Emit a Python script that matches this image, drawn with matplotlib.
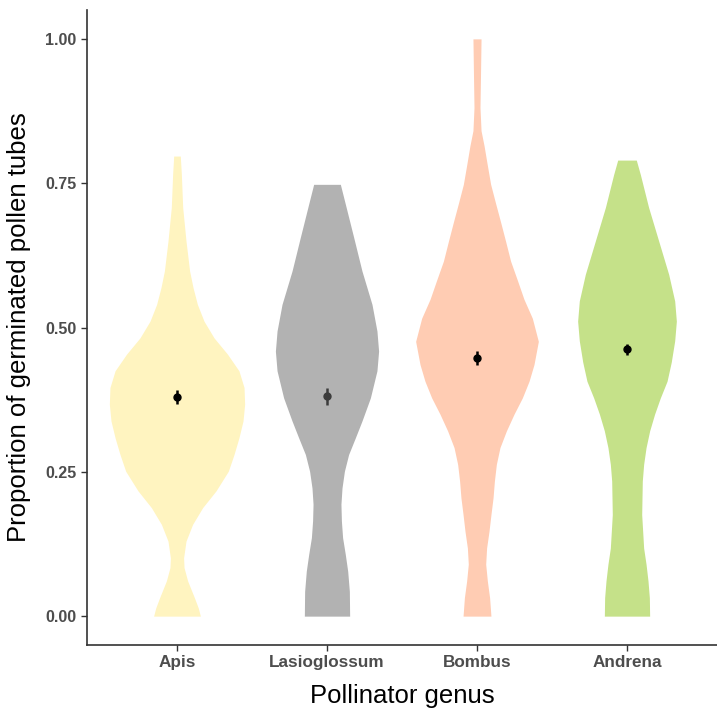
import numpy as np
import matplotlib.pyplot as plt

plt.rcParams['font.family'] = ['Liberation Sans', 'DejaVu Sans']

# categories and colours
genera = ["Apis", "Lasioglossum", "Bombus", "Andrena"]
fills = ["#FFF4C0", "#B2B2B2", "#FFCCB3", "#C5E189"]
dot_cols = ["black", "#3c3c3c", "black", "black"]

# violin outlines: level -> half width (x units)
apis_lv = [0.0, 0.014, 0.032, 0.061, 0.084, 0.101, 0.130, 0.159, 0.188, 0.217, 0.251, 0.280,
           0.309, 0.338, 0.367, 0.396, 0.425, 0.454, 0.482, 0.511, 0.540, 0.569, 0.598,
           0.650, 0.708, 0.766, 0.797]
apis_hw = [0.156, 0.142, 0.116, 0.071, 0.047, 0.044, 0.060, 0.104, 0.171, 0.260, 0.342, 0.380,
           0.413, 0.440, 0.451, 0.447, 0.413, 0.336, 0.247, 0.180, 0.136, 0.107, 0.084,
           0.060, 0.038, 0.029, 0.022]
lasio_lv = [0.0, 0.043, 0.078, 0.107, 0.136, 0.165, 0.194, 0.222, 0.251, 0.280, 0.309, 0.338,
            0.378, 0.425, 0.459, 0.494, 0.540, 0.598, 0.656, 0.714, 0.748]
lasio_hw = [0.151, 0.149, 0.138, 0.122, 0.104, 0.096, 0.093, 0.100, 0.116, 0.144, 0.189, 0.233,
            0.289, 0.333, 0.344, 0.333, 0.300, 0.233, 0.178, 0.122, 0.089]
bombus_lv = [0.0, 0.032, 0.061, 0.090, 0.118, 0.147, 0.176, 0.205, 0.234, 0.263, 0.292, 0.321,
             0.350, 0.378, 0.407, 0.436, 0.476, 0.516, 0.549, 0.582, 0.615, 0.649, 0.682,
             0.715, 0.748, 0.781, 0.815, 0.841, 0.881, 0.947, 1.0]
bombus_hw = [0.093, 0.084, 0.069, 0.058, 0.064, 0.080, 0.093, 0.107, 0.116, 0.129, 0.153, 0.196,
             0.247, 0.302, 0.347, 0.380, 0.409, 0.369, 0.313, 0.269, 0.224, 0.191, 0.158,
             0.124, 0.091, 0.069, 0.047, 0.027, 0.020, 0.024, 0.027]
andrena_lv = [0.0, 0.032, 0.061, 0.090, 0.118, 0.176, 0.234, 0.263, 0.292, 0.321, 0.350, 0.378,
              0.407, 0.440, 0.477, 0.511, 0.546, 0.592, 0.650, 0.708, 0.765, 0.790]
andrena_hw = [0.151, 0.149, 0.140, 0.127, 0.111, 0.098, 0.102, 0.111, 0.127, 0.151, 0.184, 0.222,
              0.267, 0.295, 0.318, 0.329, 0.318, 0.278, 0.211, 0.144, 0.089, 0.062]

# mean +/- se
means = [0.379, 0.381, 0.447, 0.462]
ses = [0.012, 0.015, 0.012, 0.010]

levels = [apis_lv, lasio_lv, bombus_lv, andrena_lv]
halfw = [apis_hw, lasio_hw, bombus_hw, andrena_hw]

fig = plt.figure(figsize=(7.17, 7.09), dpi=100)
ax = fig.add_axes([87/717, 64/709, 630/717, 635/709])

for i in range(len(genera)):
    x = i + 1
    lv = np.array(levels[i])
    hw = np.array(halfw[i])
    ax.fill_betweenx(lv, x - hw, x + hw, color=fills[i], lw=0)
    ax.errorbar(x, means[i], yerr=ses[i], fmt="o", color=dot_cols[i],
                ms=5, elinewidth=1.8, capsize=0, zorder=3)

ax.set_xlim(0.4, 4.6)
ax.set_ylim(-0.05, 1.05)
ax.set_xticks(range(1, 5))
ax.set_xticklabels(genera)
ax.set_yticks([0, 0.25, 0.5, 0.75, 1.0])
ax.set_yticklabels(["0.00", "0.25", "0.50", "0.75", "1.00"])

for s in ["top", "right"]:
    ax.spines[s].set_visible(False)
for s in ["left", "bottom"]:
    ax.spines[s].set_color("#333333")
    ax.spines[s].set_linewidth(1.2)

ax.tick_params(axis="both", colors="#333333", length=4, width=1)
for lab in ax.get_yticklabels():
    lab.set_fontsize(11.5)
    lab.set_fontweight("bold")
    lab.set_color("#4d4d4d")
for lab in ax.get_xticklabels():
    lab.set_fontsize(12.3)
    lab.set_fontweight("bold")
    lab.set_color("#4d4d4d")

ax.set_xlabel("Pollinator genus", fontsize=18.5, labelpad=10)
ax.set_ylabel("Proportion of germinated pollen tubes", fontsize=18.5, labelpad=10)

fig.savefig("out.png", dpi=100)
